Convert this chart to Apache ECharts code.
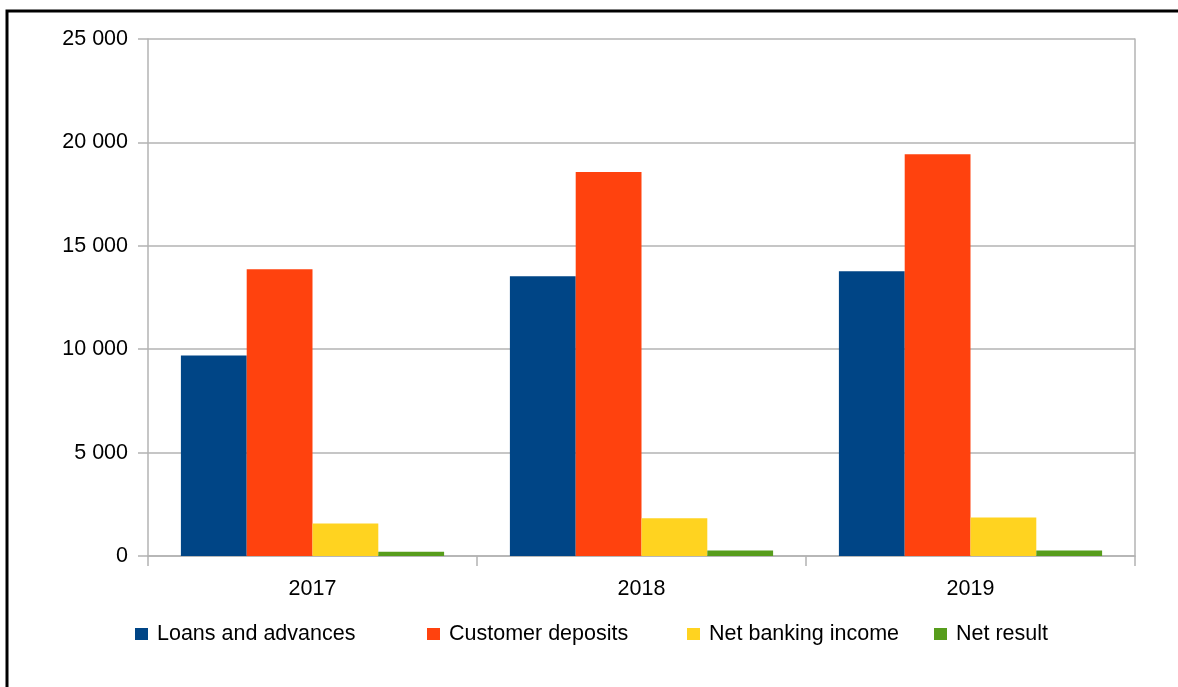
<!DOCTYPE html>
<html>
<head>
<meta charset="utf-8">
<script src="https://cdn.jsdelivr.net/npm/echarts@6/dist/echarts.min.js"></script>
<style>
  html, body { margin: 0; padding: 0; background: #ffffff; }
  #chart { width: 1178px; height: 687px; }
</style>
</head>
<body>
<div id="chart"></div>
<script>
// Key figures per year
const years = ['2017', '2018', '2019'];
const loansAndAdvances = [9700, 13530, 13770];
const customerDeposits = [13870, 18570, 19430];
const netBankingIncome = [1570, 1820, 1860];
const netResult = [210, 270, 270];
const seriesNames = ['Loans and advances', 'Customer deposits', 'Net banking income', 'Net result'];
const seriesColors = ['#004586', '#ff420e', '#ffd320', '#579d1c'];

const FONT = '"Liberation Sans", Arial, sans-serif';
const FONT_SIZE = 21.5;
const GRID_COLOR = '#b3b3b3';

// Thousands grouped with a space: 25 000
function groupThousands(v) {
  return String(v).replace(/\B(?=(\d{3})+(?!\d))/g, ' ');
}

const chart = echarts.init(document.getElementById('chart'), null, { renderer: 'canvas' });

const values = [loansAndAdvances, customerDeposits, netBankingIncome, netResult];
const legendLefts = [135, 427, 687, 934];

const option = {
  backgroundColor: '#ffffff',
  animation: false,
  textStyle: { fontFamily: FONT },
  grid: { left: 148, right: 43, top: 39, bottom: 131, containLabel: false },
  legend: seriesNames.map((name, i) => ({
    data: [name],
    left: legendLefts[i],
    top: 623,
    padding: 0,
    icon: 'rect',
    itemWidth: 13,
    itemHeight: 12,
    selectedMode: false,
    textStyle: { fontFamily: FONT, fontSize: FONT_SIZE, color: '#000000', padding: [0, 0, 0, 4] }
  })),
  xAxis: {
    type: 'category',
    data: years,
    boundaryGap: true,
    axisLine: { show: true, lineStyle: { color: GRID_COLOR, width: 1.5 } },
    axisTick: { show: true, length: 10, interval: 0, alignWithLabel: false, lineStyle: { color: GRID_COLOR, width: 1.5 } },
    axisLabel: { color: '#000000', fontFamily: FONT, fontSize: FONT_SIZE, margin: 22 },
    splitLine: { show: false }
  },
  yAxis: [{
    type: 'value',
    min: 0,
    max: 25000,
    interval: 5000,
    axisLine: { show: true, lineStyle: { color: GRID_COLOR, width: 1.5 } },
    axisTick: { show: true, length: 10, lineStyle: { color: GRID_COLOR, width: 1.5 } },
    axisLabel: { color: '#000000', fontFamily: FONT, fontSize: FONT_SIZE, margin: 20, formatter: groupThousands },
    splitLine: { show: true, lineStyle: { color: GRID_COLOR, width: 1.5 } }
  }, {
    type: 'value',
    position: 'right',
    min: 0,
    max: 25000,
    interval: 5000,
    axisLine: { show: true, lineStyle: { color: GRID_COLOR, width: 1.5 } },
    axisTick: { show: false },
    axisLabel: { show: false },
    splitLine: { show: false }
  }],
  series: seriesNames.map((name, i) => ({
    name: name,
    type: 'bar',
    yAxisIndex: 0,
    data: values[i],
    barGap: '0%',
    barCategoryGap: '20%',
    itemStyle: { color: seriesColors[i] },
    emphasis: { disabled: true }
  })),
  graphic: [{
    type: 'rect',
    silent: true,
    shape: { x: 7, y: 11, width: 1400, height: 1000 },
    style: { fill: 'none', stroke: '#000000', lineWidth: 3 }
  }]
};

chart.setOption(option);
</script>
</body>
</html>
